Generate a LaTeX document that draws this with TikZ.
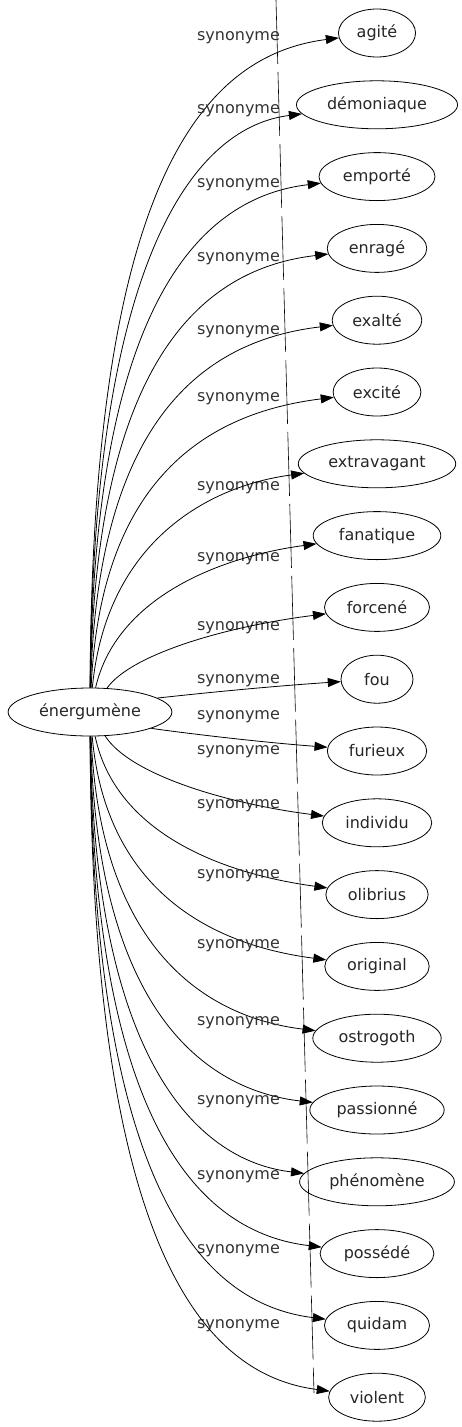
\documentclass[tikz,border=0pt]{standalone}
\usepackage{fontspec}
\setmainfont{DejaVu Sans}
\usetikzlibrary{arrows.meta,shapes.geometric,calc}
\begin{document}
\begin{tikzpicture}[x=1pt,y=-1pt,
  word/.style={draw, ellipse, line width=0.8pt, inner xsep=7pt, inner ysep=0pt,
    minimum width=72pt, minimum height=48pt, font=\fontsize{16}{19}\selectfont, text=black!85},
  rel/.style={font=\fontsize{16}{19}\selectfont, text=black!80, inner sep=0pt},
  link/.style={line width=0.8pt, -{Triangle[length=13pt,width=9pt]}},
  guide/.style={line width=0.6pt, dash pattern=on 64pt off 8pt}]
\useasboundingbox (0,0) rectangle (462,1427);
\node[word] (src) at (90,712) {énergumène};
\foreach \n/\t/\l [count=\i from 0] in {agite/agité/38, demoniaque/démoniaque/111,
  emporte/emporté/185, enrage/enragé/259, exalte/exalté/332, excite/excité/399,
  extravagant/extravagant/488, fanatique/fanatique/559, forcene/forcené/628,
  fou/fou/681, furieux/furieux/717, individu/individu/752, olibrius/olibrius/806,
  original/original/876, ostrogoth/ostrogoth/946, passionne/passionné/1023,
  phenomene/phénomène/1102, possede/possédé/1177, quidam/quidam/1251, violent/violent/1326} {
  \pgfmathsetmacro\yt{33+71.8*\i}
  \node[word] (\n) at (377,\yt) {\t};
  \node[rel] (l\n) at (238.5,\l) {synonyme};
  \pgfmathsetmacro\dy{\yt-712}
  \pgfmathsetmacro\w{exp(-abs(\dy)/150)}
  \pgfmathsetmacro\ax{91*(1-\w)+172*\w}
  \pgfmathsetmacro\ay{712+\dy*(0.78*(1-\w)+0.33*\w)}
  \pgfmathsetmacro\bx{200*(1-\w)+255*\w}
  \pgfmathsetmacro\by{\yt-\dy*(0.03*(1-\w)+0.33*\w)}
  \draw[link] (src) .. controls (\ax,\ay) and (\bx,\by) .. (\n);
}
\coordinate (gtop) at (276,0);
\coordinate (gbot) at (314,1393);
\draw[guide] (gtop) -- (gbot);
\end{tikzpicture}
\end{document}
